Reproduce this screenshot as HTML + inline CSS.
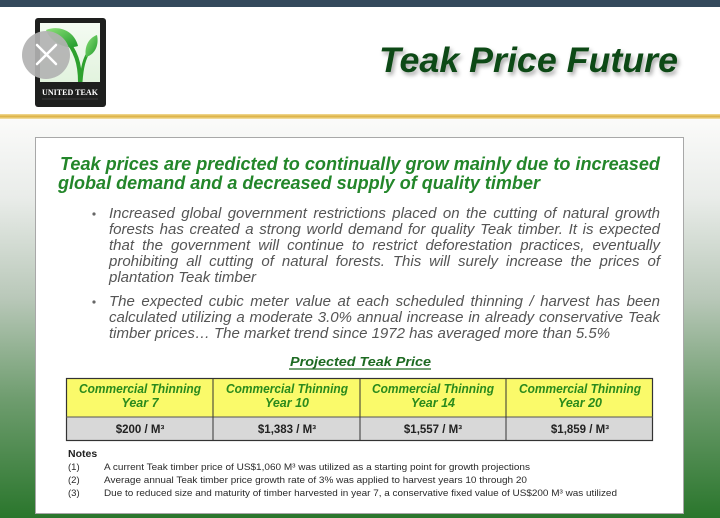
<!DOCTYPE html>
<html>
<head>
<meta charset="utf-8">
<style>
  html,body{margin:0;padding:0;background:#fff;}
  body{width:720px;height:518px;overflow:hidden;position:relative;}
  svg{display:block;font-family:"Liberation Sans",Arial,sans-serif;position:absolute;left:0;top:0;}
  .ln{position:absolute;left:109px;width:551px;font-family:"Liberation Sans",Arial,sans-serif;font-size:15px;font-style:italic;color:#555;line-height:16px;height:16px;white-space:nowrap;text-align:justify;text-align-last:justify;}
  .ln.nl{text-align:left;text-align-last:left;}
</style>
</head>
<body>
<svg width="720" height="518" viewBox="0 0 720 518" xmlns="http://www.w3.org/2000/svg">
  <defs>
    <linearGradient id="bg" x1="0" y1="0" x2="0" y2="1">
      <stop offset="0" stop-color="#fbfbfa"/>
      <stop offset="0.2" stop-color="#e9ece9"/>
      <stop offset="0.45" stop-color="#b9c8b9"/>
      <stop offset="0.7" stop-color="#6f9d6f"/>
      <stop offset="1" stop-color="#2a762c"/>
    </linearGradient>
    <linearGradient id="gold" x1="0" y1="0" x2="0" y2="1">
      <stop offset="0" stop-color="#f2dc9a"/>
      <stop offset="0.5" stop-color="#dcb040"/>
      <stop offset="1" stop-color="#f4e4b0"/>
    </linearGradient>
    <linearGradient id="leaf" x1="0" y1="0" x2="1" y2="1">
      <stop offset="0" stop-color="#8ee27a"/>
      <stop offset="1" stop-color="#1f9a2a"/>
    </linearGradient>
    <linearGradient id="inner" x1="0" y1="0" x2="0" y2="1">
      <stop offset="0" stop-color="#f4fbf2"/>
      <stop offset="1" stop-color="#e2f3de"/>
    </linearGradient>
    <filter id="sh" x="-10%" y="-30%" width="130%" height="170%">
      <feDropShadow dx="2" dy="3" stdDeviation="2" flood-color="#000" flood-opacity="0.35"/>
    </filter>
  </defs>

  <rect x="0" y="0" width="720" height="7" fill="#34495c"/>
  <rect x="0" y="7" width="720" height="108" fill="#ffffff"/>
  <rect x="0" y="118" width="720" height="400" fill="url(#bg)"/>
  <rect x="0" y="114" width="720" height="5" fill="url(#gold)"/>

  <!-- logo -->
  <rect x="35" y="18" width="71" height="89" rx="3" fill="#1e1f1e"/>
  <rect x="40" y="23" width="60" height="59" fill="url(#inner)"/>
  <path d="M80 82 C80 64 76 50 64 38" stroke="#2ea12e" stroke-width="4" fill="none"/>
  <path d="M81 82 C82 68 84 58 90 50" stroke="#2ea12e" stroke-width="3" fill="none"/>
  <path d="M46 30 C58 25 74 30 78 46 C66 50 51 43 46 30 Z" fill="url(#leaf)"/>
  <path d="M97 35 C99 44 96 54 86 57 C84 48 88 38 97 35 Z" fill="url(#leaf)"/>
  <text x="70" y="95" text-anchor="middle" font-family="'Liberation Serif',serif" font-weight="bold" font-size="8" fill="#ffffff" textLength="56" lengthAdjust="spacingAndGlyphs">UNITED TEAK</text>
  <line x1="42" y1="99" x2="98" y2="99" stroke="#555" stroke-width="0.6"/>
  <circle cx="46" cy="55" r="24" fill="#b2b2b2" fill-opacity="0.92"/>
  <path d="M37 45 L56 64 M56 45 L37 64" stroke="#ffffff" stroke-width="2.5" stroke-linecap="round"/>

  <!-- title -->
  <text x="379" y="72" font-size="35" font-weight="bold" font-style="italic" fill="#0e4a14" filter="url(#sh)" textLength="299" lengthAdjust="spacingAndGlyphs">Teak Price Future</text>

  <!-- panel -->
  <rect x="35.5" y="137.5" width="648" height="376" fill="#ffffff" stroke="#a8a8a8" stroke-width="1"/>

  <!-- heading -->
  <g font-size="18" font-weight="bold" font-style="italic" fill="#23862a">
    <text x="60" y="170" textLength="600" lengthAdjust="spacingAndGlyphs">Teak prices are predicted to continually grow mainly due to increased</text>
    <text x="58" y="189" textLength="482" lengthAdjust="spacingAndGlyphs">global demand and a decreased supply of quality timber</text>
  </g>

  <circle cx="94" cy="214" r="1.6" fill="#666"/>
  <circle cx="94" cy="302" r="1.6" fill="#666"/>

  <!-- projected teak price -->
  <text x="290" y="366" font-size="13" font-weight="bold" font-style="italic" fill="#1d6a22" textLength="141" lengthAdjust="spacingAndGlyphs">Projected Teak Price</text>
  <line x1="289" y1="369" x2="431" y2="369" stroke="#1d6a22" stroke-width="1.2"/>

  <!-- table -->
  <rect x="66" y="378" width="587" height="39" fill="#fafa6a"/>
  <rect x="66" y="417" width="587" height="23" fill="#d8d8d8"/>
  <rect x="66.5" y="378.5" width="586" height="62" fill="none" stroke="#333" stroke-width="1.2"/>
  <line x1="66" y1="417" x2="653" y2="417" stroke="#555" stroke-width="1"/>
  <line x1="213" y1="378" x2="213" y2="441" stroke="#333" stroke-width="1"/>
  <line x1="360" y1="378" x2="360" y2="441" stroke="#333" stroke-width="1"/>
  <line x1="506" y1="378" x2="506" y2="441" stroke="#333" stroke-width="1"/>

  <g font-size="12.5" font-weight="bold" font-style="italic" fill="#2a8a1c" text-anchor="middle">
    <text x="140" y="393" textLength="122" lengthAdjust="spacingAndGlyphs">Commercial Thinning</text>
    <text x="140" y="407">Year 7</text>
    <text x="287" y="393" textLength="122" lengthAdjust="spacingAndGlyphs">Commercial Thinning</text>
    <text x="287" y="407">Year 10</text>
    <text x="433" y="393" textLength="122" lengthAdjust="spacingAndGlyphs">Commercial Thinning</text>
    <text x="433" y="407">Year 14</text>
    <text x="580" y="393" textLength="122" lengthAdjust="spacingAndGlyphs">Commercial Thinning</text>
    <text x="580" y="407">Year 20</text>
  </g>
  <g font-size="11.5" font-weight="bold" fill="#222" text-anchor="middle">
    <text x="140" y="433">$200 / M³</text>
    <text x="287" y="433">$1,383 / M³</text>
    <text x="433" y="433">$1,557 / M³</text>
    <text x="580" y="433">$1,859 / M³</text>
  </g>

  <!-- notes -->
  <text x="68" y="457" font-size="10.5" font-weight="bold" fill="#222">Notes</text>
  <g font-size="9.5" fill="#2a2a2a">
    <text x="68" y="470">(1)</text>
    <text x="104" y="470" textLength="426" lengthAdjust="spacingAndGlyphs">A current Teak timber price of US$1,060 M³ was utilized as a starting point for growth projections</text>
    <text x="68" y="483">(2)</text>
    <text x="104" y="483" textLength="423" lengthAdjust="spacingAndGlyphs">Average annual Teak timber price growth rate of 3% was applied to harvest years 10 through 20</text>
    <text x="68" y="496">(3)</text>
    <text x="104" y="496" textLength="513" lengthAdjust="spacingAndGlyphs">Due to reduced size and maturity of timber harvested in year 7, a conservative fixed value of US$200 M³ was utilized</text>
  </g>
</svg>

<div class="ln" style="top:206px">Increased global government restrictions placed on the cutting of natural growth</div>
<div class="ln" style="top:222px">forests has created a strong world demand for quality Teak timber. It is expected</div>
<div class="ln" style="top:238px">that the government will continue to restrict deforestation practices, eventually</div>
<div class="ln" style="top:254px">prohibiting all cutting of natural forests. This will surely increase the prices of</div>
<div class="ln nl" style="top:270px">plantation Teak timber</div>

<div class="ln" style="top:294px">The expected cubic meter value at each scheduled thinning / harvest has been</div>
<div class="ln" style="top:310px">calculated utilizing a moderate 3.0% annual increase in already conservative Teak</div>
<div class="ln nl" style="top:326px">timber prices… The market trend since 1972 has averaged more than 5.5%</div>
</body>
</html>
